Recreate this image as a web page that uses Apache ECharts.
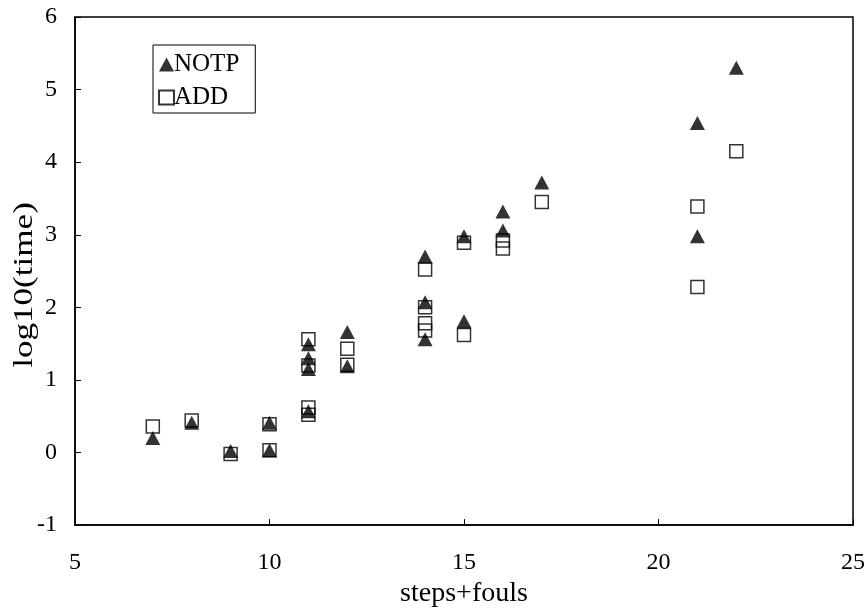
<!DOCTYPE html>
<html>
<head>
<meta charset="utf-8">
<script src="https://cdn.jsdelivr.net/npm/echarts@6/dist/echarts.min.js"></script>
<style>
    html, body { margin: 0; padding: 0; background: #fff; }
    #chart { width: 868px; height: 613px; }
</style>
</head>
<body>
<div id="chart"></div>
<script>
// NOTP 三角形点 [steps+fouls, log10(time)]
var notpPoints = [
    [7, 0.20], [8, 0.41], [9, 0.02], [10, 0.41], [10, 0.03],
    [11, 1.49], [11, 1.30], [11, 1.15], [11, 0.57],
    [12, 1.66], [12, 1.19],
    [14, 2.70], [14, 2.07], [14, 1.56],
    [15, 2.98], [15, 1.81],
    [16, 3.32], [16, 3.06],
    [17, 3.72],
    [21, 4.54], [21, 2.98],
    [22, 5.30]
];
// ADD 方框点
var addPoints = [
    [7, 0.36], [8, 0.44], [9, -0.02], [10, 0.39], [10, 0.03],
    [11, 1.56], [11, 1.20], [11, 0.62], [11, 0.52],
    [12, 1.43], [12, 1.21],
    [14, 2.52], [14, 2.00], [14, 1.78], [14, 1.68],
    [15, 2.89], [15, 1.62],
    [16, 2.92], [16, 2.81],
    [17, 3.45],
    [21, 3.39], [21, 2.28],
    [22, 4.15]
];
var seriesNames = ['NOTP', 'ADD'];
var xTicks = [5, 10, 15, 20, 25];
var yTicks = [-1, 0, 1, 2, 3, 4, 5, 6];

var font = '"Liberation Serif", "Times New Roman", serif';

window.onload = function () {
    var myChart = echarts.init(document.getElementById('chart'));

    var option = {
        animation: false,
        backgroundColor: '#fff',
        grid: {
            left: 75,
            right: 14,
            top: 17,
            bottom: 86,
            show: true,
            borderColor: '#000',
            borderWidth: 1.5
        },
        legend: {
            orient: 'vertical',
            left: 153,
            top: 45,
            padding: [7, 16, 3, 5],
            itemGap: 8,
            itemWidth: 15,
            itemHeight: 14,
            borderColor: '#000',
            borderWidth: 1,
            textStyle: { fontFamily: font, fontSize: 25, color: '#000', padding: [0, 0, 0, -5] },
            data: [
                { name: seriesNames[0], icon: 'triangle' },
                { name: seriesNames[1], icon: 'rect' }
            ]
        },
        // y轴标题 (横向拉长)
        graphic: [{
            type: 'text',
            x: 25,
            y: 285,
            rotation: Math.PI / 2,
            scaleX: 1.3,
            style: {
                text: 'log10(time)',
                fontFamily: font,
                fontSize: 27,
                fill: '#000',
                align: 'center',
                verticalAlign: 'middle'
            }
        }],
        xAxis: {
            type: 'value',
            min: xTicks[0],
            max: xTicks[xTicks.length - 1],
            interval: 5,
            name: 'steps+fouls',
            nameLocation: 'middle',
            nameGap: 50,
            nameTextStyle: { fontFamily: font, fontSize: 28, color: '#000' },
            axisLine: { onZero: false, lineStyle: { color: '#000', width: 1.5 } },
            axisTick: { inside: true, length: 6, lineStyle: { color: '#000' } },
            axisLabel: { fontFamily: font, fontSize: 24, color: '#000', margin: 26 },
            splitLine: { show: false }
        },
        yAxis: {
            type: 'value',
            min: yTicks[0],
            max: yTicks[yTicks.length - 1],
            interval: 1,
            axisLine: { onZero: false, lineStyle: { color: '#000', width: 1.5 } },
            axisTick: { inside: true, length: 6, lineStyle: { color: '#000' } },
            axisLabel: { fontFamily: font, fontSize: 24, color: '#000', margin: 18 },
            splitLine: { show: false }
        },
        series: [{
            name: seriesNames[0],
            type: 'scatter',
            symbol: 'triangle',
            symbolSize: [15, 14],
            itemStyle: { color: '#000' },
            data: notpPoints
        }, {
            name: seriesNames[1],
            type: 'scatter',
            symbol: 'rect',
            symbolSize: 13,
            itemStyle: { color: 'rgba(255,255,255,0)', borderColor: '#000', borderWidth: 1.5 },
            data: addPoints
        }]
    };

    myChart.setOption(option);
};
</script>
</body>
</html>
